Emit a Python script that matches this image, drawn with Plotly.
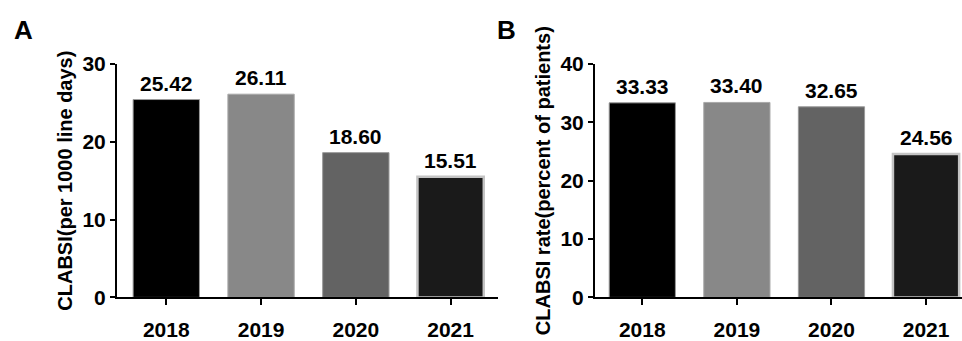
import plotly.graph_objects as go

# Data
years = ["2018", "2019", "2020", "2021"]
clabsi_per_1000 = [25.42, 26.11, 18.60, 15.51]
clabsi_rate_pct = [33.33, 33.40, 32.65, 24.56]

bar_colors = ["#000000", "#888888", "#636363", "#1a1a1a"]
line_colors = ["#9a9a9a", "#a8a8a8", "#9a9a9a", "#c4c4c4"]
line_widths = [1, 1, 1, 2.5]

FONT = "Liberation Sans, Arial, sans-serif"

fig = go.Figure()

fig.add_trace(go.Bar(
    x=years, y=clabsi_per_1000, xaxis="x", yaxis="y",
    marker=dict(color=bar_colors, line=dict(color=line_colors, width=line_widths)),
    width=0.7, showlegend=False,
))
fig.add_trace(go.Bar(
    x=years, y=clabsi_rate_pct, xaxis="x2", yaxis="y2",
    marker=dict(color=bar_colors, line=dict(color=line_colors, width=line_widths)),
    width=0.7, showlegend=False,
))

annotations = []
for xr, yr, vals in (("x", "y", clabsi_per_1000), ("x2", "y2", clabsi_rate_pct)):
    for i, v in enumerate(vals):
        annotations.append(dict(
            x=i, y=v, xref=xr, yref=yr, text=f"{v:.2f}",
            showarrow=False, yanchor="bottom", yshift=3,
            font=dict(family=FONT, size=21, color="#000", weight="bold"),
        ))

# Panel letters
annotations.append(dict(x=23 / 962, y=1 - 19 / 341, xref="paper", yref="paper",
                        text="A", showarrow=False, xanchor="center", yanchor="middle",
                        font=dict(family=FONT, size=26, color="#000", weight="bold")))
annotations.append(dict(x=507 / 962, y=1 - 19 / 341, xref="paper", yref="paper",
                        text="B", showarrow=False, xanchor="center", yanchor="middle",
                        font=dict(family=FONT, size=26, color="#000", weight="bold")))

ydom = [(341 - 308) / 341, (341 - 56) / 341]

xaxis_common = dict(
    type="category", showline=True, linecolor="#000", linewidth=2,
    ticks="outside", ticklen=6, tickwidth=2, tickcolor="#000",
    tickfont=dict(family=FONT, size=21, color="#000", weight="bold"),
    ticklabelstandoff=6,
    showgrid=False, zeroline=False, fixedrange=True,
)
yaxis_common = dict(
    showline=True, linecolor="#000", linewidth=2,
    ticks="outside", ticklen=5, tickwidth=2, tickcolor="#000",
    tickfont=dict(family=FONT, size=21, color="#000", weight="bold"),
    showgrid=False, zeroline=False, dtick=10,
)

fig.update_layout(
    width=962, height=341,
    margin=dict(l=0, r=0, t=0, b=0),
    plot_bgcolor="white", paper_bgcolor="white",
    font=dict(family=FONT, color="#000"),
    xaxis=dict(xaxis_common, domain=[117 / 962, 498 / 962], range=[-0.52, 3.5], anchor="y"),
    yaxis=dict(yaxis_common, domain=ydom, range=[0, 30], anchor="x",
               title=dict(text="CLABSI(per 1000 line days)",
                          font=dict(family=FONT, size=20, color="#000", weight="bold"),
                          standoff=4)),
    xaxis2=dict(xaxis_common, domain=[595 / 962, 1.0], range=[-0.5, 3.38], anchor="y2"),
    yaxis2=dict(yaxis_common, domain=ydom, range=[0, 40], anchor="x2",
                title=dict(text="CLABSI rate(percent of patients)",
                           font=dict(family=FONT, size=20, color="#000", weight="bold"),
                           standoff=4)),
    annotations=annotations,
)

fig.write_html("out.html")
